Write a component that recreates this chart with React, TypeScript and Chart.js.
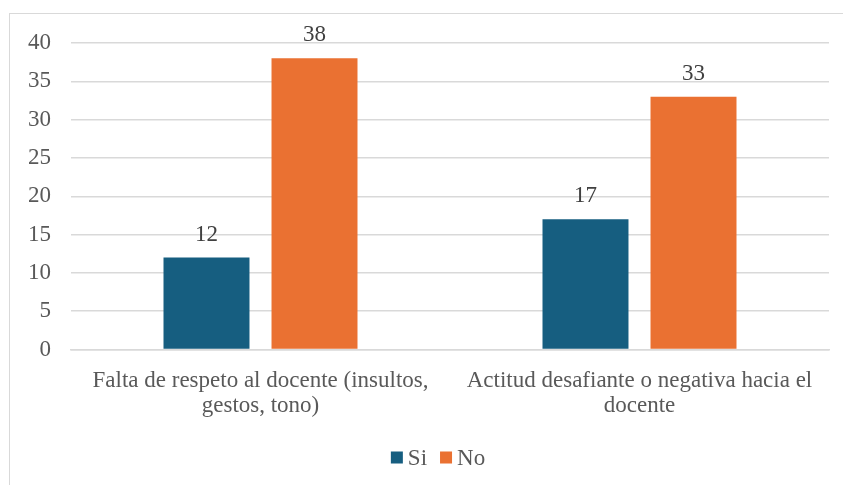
import React, { useEffect, useRef } from "react";
import { Chart, registerables } from "chart.js";

Chart.register(...registerables);

const categories: string[][] = [
  ["Falta de respeto al docente (insultos,", "gestos, tono)"],
  ["Actitud desafiante o negativa hacia el", "docente"],
];
const seriesNames = ["Si", "No"];
const siValues = [12, 17];
const noValues = [38, 33];
const yTicks = [0, 5, 10, 15, 20, 25, 30, 35, 40];
const colors = ["#165E80", "#EA7132"];

const FONT = "'Liberation Serif', 'Times New Roman', serif";
const FS = 23;
const TEXT = "#595959";

const dataLabels = {
  id: "dataLabels",
  afterDatasetsDraw(chart: any) {
    const ctx = chart.ctx;
    ctx.save();
    ctx.fillStyle = "#404040";
    ctx.font = `${FS}px ${FONT}`;
    ctx.textAlign = "center";
    ctx.textBaseline = "alphabetic";
    chart.data.datasets.forEach((ds: any, i: number) => {
      const meta = chart.getDatasetMeta(i);
      meta.data.forEach((bar: any, j: number) => {
        ctx.fillText(String(ds.data[j]), bar.x, bar.y - 17);
      });
    });
    ctx.restore();
  },
};

const customLegend = {
  id: "customLegend",
  afterDraw(chart: any) {
    const ctx = chart.ctx;
    ctx.save();
    ctx.font = `${FS}px ${FONT}`;
    ctx.textBaseline = "middle";
    const box = 12;
    const gapText = 5;
    const gapItem = 13;
    const items = chart.data.datasets.map((ds: any) => ({
      label: ds.label,
      color: ds.backgroundColor,
      w: box + gapText + ctx.measureText(ds.label).width,
    }));
    const total = items.reduce((s: number, it: any) => s + it.w, 0) + gapItem * (items.length - 1);
    let x = 438 - total / 2;
    const cy = 457.5;
    items.forEach((it: any) => {
      ctx.fillStyle = it.color;
      ctx.fillRect(x, cy - box / 2, box, box);
      ctx.fillStyle = TEXT;
      ctx.textAlign = "left";
      ctx.fillText(it.label, x + box + gapText, cy + 1);
      x += it.w + gapItem;
    });
    ctx.restore();
  },
};

export default function App() {
  const ref = useRef<HTMLCanvasElement | null>(null);
  useEffect(() => {
    if (!ref.current) return;
    const chart = new Chart(ref.current, {
      type: "bar",
      data: {
        labels: categories,
        datasets: [
          { label: seriesNames[0], data: siValues, backgroundColor: colors[0] },
          { label: seriesNames[1], data: noValues, backgroundColor: colors[1] },
        ],
      },
      options: {
        animation: false,
        responsive: false,
        maintainAspectRatio: false,
        layout: { padding: { left: 10, right: 14, top: 43, bottom: 50 } },
        datasets: { bar: { categoryPercentage: 0.57, barPercentage: 0.796 } },
        plugins: {
          tooltip: { enabled: false },
          legend: { display: false },
        },
        scales: {
          x: {
            grid: { display: false },
            border: { color: "#D9D9D9", width: 1.5 },
            ticks: {
              color: TEXT,
              font: { family: FONT, size: FS, lineHeight: 1.1 },
              maxRotation: 0,
              autoSkip: false,
              padding: 11,
            },
            afterFit(scale: any) {
              scale.height = 85.5;
            },
          },
          y: {
            min: 0,
            max: 40,
            afterBuildTicks(scale: any) {
              scale.ticks = yTicks.map((v) => ({ value: v }));
            },
            grid: { color: "#D9D9D9", lineWidth: 1.5, drawTicks: false },
            border: { display: false },
            ticks: {
              color: TEXT,
              font: { family: FONT, size: FS },
              padding: 20,
            },
            afterFit(scale: any) {
              scale.width = 61;
            },
          },
        },
      },
      plugins: [dataLabels, customLegend],
    });
    return () => chart.destroy();
  }, []);
  return (
    <div style={{ position: "fixed", left: 0, top: 0, width: 843, height: 485, background: "#fff", overflow: "hidden" }}>
      <div
        style={{
          position: "absolute",
          left: 9,
          top: 13,
          width: 850,
          height: 490,
          border: "1.5px solid #D9D9D9",
          boxSizing: "border-box",
        }}
      />
      <canvas ref={ref} width={843} height={485} style={{ position: "absolute", left: 0, top: 0 }} />
    </div>
  );
}
